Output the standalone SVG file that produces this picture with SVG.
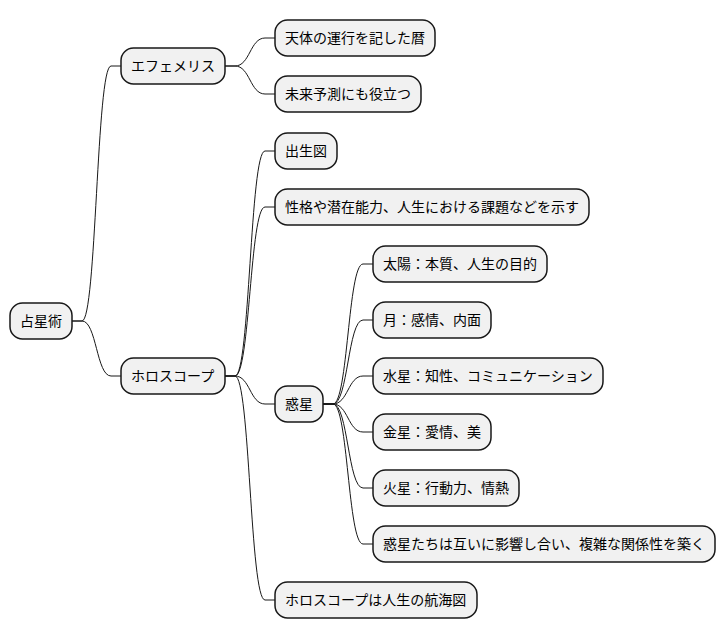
<svg xmlns="http://www.w3.org/2000/svg" width="726" height="640" viewBox="0 0 726 640">
<style>
.n rect{fill:#F1F1F1;stroke:#181818;stroke-width:1.5}
.n text{font-family:"Noto Sans CJK JP","Noto Sans",sans-serif;font-size:14px;fill:#000}
.c path{fill:none;stroke:#181818;stroke-width:1}
</style>
<rect width="726" height="640" fill="#FFFFFF"/>
<g class="c" id="connectors">
<path d="M72,321 L82,321 C96.5,321 96.5,66 111,66 L121,66"/>
<path d="M72,321 L82,321 C96.5,321 96.5,376 111,376 L121,376"/>
<path d="M225,66 L235,66 C250,66 250,38 265,38 L275,38"/>
<path d="M225,66 L235,66 C250,66 250,94 265,94 L275,94"/>
<path d="M225,376 L235,376 C250,376 250,151 265,151 L275,151"/>
<path d="M225,376 L235,376 C250,376 250,207 265,207 L275,207"/>
<path d="M225,376 L235,376 C250,376 250,404 265,404 L275,404"/>
<path d="M225,376 L235,376 C250,376 250,600 265,600 L275,600"/>
<path d="M323,404 L333,404 C348,404 348,264 363,264 L373,264"/>
<path d="M323,404 L333,404 C348,404 348,320 363,320 L373,320"/>
<path d="M323,404 L333,404 C348,404 348,376 363,376 L373,376"/>
<path d="M323,404 L333,404 C348,404 348,432 363,432 L373,432"/>
<path d="M323,404 L333,404 C348,404 348,488 363,488 L373,488"/>
<path d="M323,404 L333,404 C348,404 348,544 363,544 L373,544"/>
</g>
<g class="n" id="root"><rect x="10" y="303" width="62" height="36" rx="12.5"/><text x="20" y="326">占星術</text></g>
<g class="n" id="ephemeris"><rect x="121" y="48" width="104" height="36" rx="12.5"/><text x="131" y="71">エフェメリス</text></g>
<g class="n" id="e1"><rect x="275" y="20" width="160" height="36" rx="12.5"/><text x="285" y="43">天体の運行を記した暦</text></g>
<g class="n" id="e2"><rect x="275" y="76" width="146" height="36" rx="12.5"/><text x="285" y="99">未来予測にも役立つ</text></g>
<g class="n" id="horoscope"><rect x="121" y="358" width="104" height="36" rx="12.5"/><text x="131" y="381">ホロスコープ</text></g>
<g class="n" id="h1"><rect x="275" y="133" width="62" height="36" rx="12.5"/><text x="285" y="156">出生図</text></g>
<g class="n" id="h2"><rect x="275" y="189" width="314" height="36" rx="12.5"/><text x="285" y="212">性格や潜在能力、人生における課題などを示す</text></g>
<g class="n" id="planets"><rect x="275" y="386" width="48" height="36" rx="12.5"/><text x="285" y="409">惑星</text></g>
<g class="n" id="p1"><rect x="373" y="246" width="174" height="36" rx="12.5"/><text x="383" y="269">太陽：本質、人生の目的</text></g>
<g class="n" id="p2"><rect x="373" y="302" width="118" height="36" rx="12.5"/><text x="383" y="325">月：感情、内面</text></g>
<g class="n" id="p3"><rect x="373" y="358" width="230" height="36" rx="12.5"/><text x="383" y="381">水星：知性、コミュニケーション</text></g>
<g class="n" id="p4"><rect x="373" y="414" width="118" height="36" rx="12.5"/><text x="383" y="437">金星：愛情、美</text></g>
<g class="n" id="p5"><rect x="373" y="470" width="146" height="36" rx="12.5"/><text x="383" y="493">火星：行動力、情熱</text></g>
<g class="n" id="p6"><rect x="373" y="526" width="342" height="36" rx="12.5"/><text x="383" y="549">惑星たちは互いに影響し合い、複雑な関係性を築く</text></g>
<g class="n" id="h4"><rect x="275" y="582" width="202" height="36" rx="12.5"/><text x="285" y="605">ホロスコープは人生の航海図</text></g>
</svg>
